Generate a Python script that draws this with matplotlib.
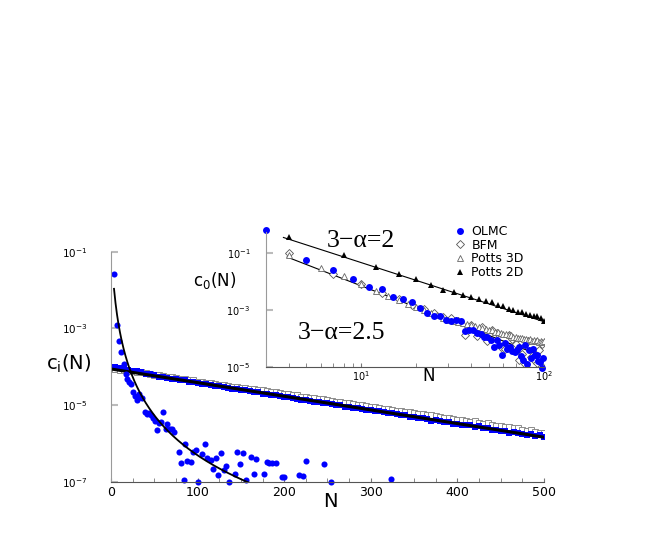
import numpy as np
import matplotlib
matplotlib.use("Agg")
import matplotlib.pyplot as plt
from matplotlib.ticker import FixedLocator, NullFormatter, NullLocator

plt.rcParams['font.family'] = ['DejaVu Sans']
plt.rcParams['mathtext.fontset'] = 'dejavusans'

BLUE = '#0000ff'

# ---- main panel: c_i(N), N = 0..500 step 5 (log10 values)
n_sq = np.arange(0, 501, 5)
hollow_sq = [-4.07, -4.06, -4.08, -4.09, -4.11, -4.12, -4.14, -4.15, -4.17, -4.19,
             -4.21, -4.22, -4.24, -4.26, -4.27, -4.29, -4.31, -4.32, -4.34, -4.35,
             -4.39, -4.40, -4.43, -4.43, -4.46, -4.47, -4.49, -4.50, -4.52, -4.53,
             -4.55, -4.56, -4.58, -4.59, -4.61, -4.62, -4.64, -4.66, -4.67, -4.69,
             -4.71, -4.72, -4.74, -4.75, -4.78, -4.78, -4.81, -4.82, -4.84, -4.85,
             -4.88, -4.89, -4.91, -4.92, -4.95, -4.95, -4.98, -4.99, -5.01, -5.03,
             -5.04, -5.06, -5.07, -5.10, -5.11, -5.12, -5.15, -5.16, -5.18, -5.19,
             -5.21, -5.23, -5.24, -5.27, -5.27, -5.29, -5.32, -5.33, -5.34, -5.37,
             -5.38, -5.39, -5.41, -5.44, -5.43, -5.47, -5.49, -5.48, -5.52, -5.54,
             -5.55, -5.57, -5.58, -5.61, -5.60, -5.64, -5.67, -5.66, -5.70, -5.72, -5.73]
blue_sq = [-4.02, -4.01, -4.03, -4.04, -4.09, -4.12, -4.11, -4.14, -4.19, -4.20,
           -4.23, -4.26, -4.27, -4.30, -4.31, -4.33, -4.36, -4.36, -4.39, -4.41,
           -4.43, -4.44, -4.46, -4.48, -4.50, -4.51, -4.54, -4.55, -4.57, -4.58,
           -4.61, -4.61, -4.64, -4.66, -4.67, -4.70, -4.70, -4.73, -4.75, -4.76,
           -4.79, -4.80, -4.81, -4.84, -4.86, -4.86, -4.89, -4.91, -4.92, -4.95,
           -4.96, -4.97, -5.00, -5.01, -5.04, -5.04, -5.07, -5.08, -5.11, -5.12,
           -5.14, -5.16, -5.16, -5.19, -5.21, -5.22, -5.24, -5.27, -5.26, -5.30,
           -5.32, -5.35, -5.34, -5.37, -5.41, -5.40, -5.43, -5.45, -5.44, -5.49,
           -5.49, -5.52, -5.53, -5.51, -5.58, -5.56, -5.61, -5.60, -5.64, -5.66,
           -5.67, -5.68, -5.72, -5.70, -5.74, -5.76, -5.77, -5.76, -5.81, -5.79, -5.83]

# steep OLMC series in the main panel
n_dots = [3, 6.5, 9, 12, 15, 17, 19, 21, 23, 26, 28, 30, 32, 34, 36, 39, 42, 44, 46, 49,
          51, 53, 55, 58, 60, 63, 65, 68, 70, 73, 78, 81, 84, 86, 88, 92, 95, 98, 100, 105,
          108, 111, 115, 118, 121, 124, 127, 130, 133, 136, 143, 145, 149, 153, 156, 162,
          165, 168, 177, 180, 183, 186, 190, 197, 200, 217, 222, 225, 246, 254, 323]
dots = [-1.58, -2.92, -3.33, -3.62, -3.93, -4.19, -4.33, -4.40, -4.45, -4.67, -4.76, -4.88,
        -4.72, -4.78, -4.81, -5.18, -5.24, -5.20, -5.26, -5.33, -5.43, -5.66, -5.46, -5.45,
        -5.17, -5.63, -5.50, -5.62, -5.63, -5.71, -6.22, -6.50, -6.95, -6.02, -6.45, -6.48,
        -6.22, -6.18, -7.00, -6.28, -6.02, -6.37, -6.43, -6.67, -6.37, -6.82, -6.26, -6.69,
        -6.59, -7.00, -6.80, -6.22, -6.55, -6.24, -6.96, -6.35, -6.80, -6.42, -6.80, -6.48,
        -6.50, -6.50, -6.52, -6.87, -6.87, -6.83, -6.86, -6.45, -6.55, -7.00, -6.94]

# fits drawn in the main panel
exp_fit = (-4.06, -0.00356)          # log10 c = a + b*N
pow_fit = (0.974, 3.0, 3.62)         # log10 c = a - p*log10(N + n0)

# ---- inset: c_0(N)
n_olmc = np.arange(3, 100, 2)
olmc = [-0.18, -1.26, -1.61, -1.92, -2.21, -2.27, -2.53, -2.62, -2.74, -2.92,
        -3.12, -3.22, -3.20, -3.36, -3.40, -3.36, -3.38, -3.74, -3.72, -3.70,
        -3.80, -3.85, -3.94, -3.95, -4.05, -4.30, -4.05, -4.25, -4.58, -4.17,
        -4.38, -4.30, -4.46, -4.50, -4.40, -4.30, -4.62, -4.78, -4.23, -4.90,
        -4.42, -4.70, -4.36, -4.60, -4.58, -4.80, -4.82, -5.05, -4.70]
n_bfm = np.arange(4, 101, 3)
bfm = [-1.00, -1.72, -2.10, -2.40, -2.62, -2.82, -2.98, -3.10, -3.24, -3.30, -3.40,
       -3.88, -3.55, -3.92, -3.62, -4.10, -3.72, -3.80, -4.30, -4.36, -3.90, -4.02,
       -4.20, -4.76, -4.55, -4.90, -4.10, -4.65, -4.76, -4.87, -4.42, -4.20, -4.80]
n_p3 = np.arange(4, 101, 2)
potts3d = [-1.06, -1.53, -1.82, -2.08, -2.33, -2.52, -2.66, -2.79, -2.90, -3.01,
           -3.10, -3.19, -3.27, -3.34, -3.38, -3.42, -3.47, -3.50, -3.55, -3.58,
           -3.61, -3.64, -3.68, -3.70, -3.71, -3.77, -3.78, -3.82, -3.84, -3.86,
           -3.90, -3.90, -3.95, -3.94, -3.98, -3.99, -4.00, -4.04, -4.01, -4.05,
           -4.03, -4.08, -4.06, -4.10, -4.07, -4.12, -4.10, -4.13, -4.11]
n_p2 = np.arange(4, 101, 4)
potts2d = [-0.42, -1.08, -1.49, -1.73, -1.92, -2.12, -2.29, -2.37, -2.47, -2.55,
           -2.61, -2.67, -2.73, -2.82, -2.88, -2.96, -3.02, -3.06, -3.09, -3.14,
           -3.17, -3.20, -3.23, -3.29, -3.38]

# power-law guide lines: (N0, log10 c at N0, exponent, N end)
line_2 = (3.75, -0.45, 2.08, 100)
line_25 = (3.93, -1.14, 2.5, 95)

fig = plt.figure(figsize=(6.54, 5.45), dpi=100)

# ---------------- main panel
ax = fig.add_axes([0.1697, 0.1162, 0.662, 0.422])
ax.plot(n_sq, 10 ** np.array(hollow_sq), 's', ms=4.8, mfc='white', mec='#8c8c8c', mew=0.7)
ax.plot(n_sq, 10 ** np.array(blue_sq), 's', ms=3.8, mfc=BLUE, mec=BLUE, mew=0)
nn = np.linspace(0, 500, 200)
ax.plot(nn, 10 ** (exp_fit[0] + exp_fit[1] * nn), color='black', lw=2.2)
ax.plot(n_dots, 10 ** np.array(dots), 'o', ms=4.4, mfc=BLUE, mec=BLUE, mew=0, clip_on=False)
nc = np.linspace(3.5, 175, 300)
ax.plot(nc, 10 ** (pow_fit[0] - pow_fit[2] * np.log10(nc + pow_fit[1])), color='black', lw=1.3)

ax.set_yscale('log')
ax.set_xlim(0, 500)
ax.set_ylim(1e-7, 1e-1)
for s in ['top', 'right']:
    ax.spines[s].set_visible(False)
ax.spines['left'].set_color('#9a9a9a')
ax.spines['bottom'].set_color('#555555')
ax.yaxis.set_major_locator(FixedLocator([1e-7, 1e-5, 1e-3, 1e-1]))
ax.yaxis.set_minor_locator(NullLocator())
ax.set_yticklabels(['$10^{-7}$', '$10^{-5}$', '$10^{-3}$', '$10^{-1}$'])
ax.tick_params(axis='y', direction='in', length=5, color='#bbbbbb', width=1.5,
               pad=17, labelsize=7.5)
ax.xaxis.set_major_locator(FixedLocator([0, 100, 200, 300, 400, 500]))
ax.xaxis.set_minor_locator(FixedLocator(np.arange(25, 500, 25)))
ax.tick_params(axis='x', which='both', direction='in', length=3, color='#777777',
               pad=3, labelsize=9)
fig.text(0.5046, 0.0807, 'N', fontsize=14, ha='center', va='center')
fig.text(0.1055, 0.332, r'$\mathrm{c_i(N)}$', fontsize=14, ha='center', va='center')

# ---------------- inset
ins = fig.add_axes([0.4063, 0.3272, 0.4255, 0.2475])
ins.patch.set_alpha(0)
x0, y0, p, x1 = line_2
xl = np.array([x0, x1])
ins.plot(xl, 10 ** (y0 - p * np.log10(xl / x0)), color='black', lw=0.8)
x0, y0, p, x1 = line_25
xl = np.array([x0, x1])
ins.plot(xl, 10 ** (y0 - p * np.log10(xl / x0)), color='black', lw=0.8)

ins.plot(n_bfm, 10 ** np.array(bfm), 'D', ms=3.6, mfc='white', mec='#555555', mew=0.6,
         label='BFM')
ins.plot(n_p3, 10 ** np.array(potts3d), '^', ms=4.8, mfc='white', mec='#666666', mew=0.6,
         label='Potts 3D')
ins.plot(n_olmc, 10 ** np.array(olmc), 'o', ms=5.0, mfc=BLUE, mec=BLUE, mew=0,
         clip_on=False, label='OLMC')
ins.plot(n_p2, 10 ** np.array(potts2d), '^', ms=5.0, mfc='black', mec='black', mew=0,
         label='Potts 2D')

ins.set_xscale('log')
ins.set_yscale('log')
ins.set_xlim(3, 100)
ins.set_ylim(1e-5, 10 ** -0.25)
for s in ['top', 'right']:
    ins.spines[s].set_visible(False)
ins.spines['left'].set_color('#9a9a9a')
ins.spines['bottom'].set_color('#555555')
ins.yaxis.set_major_locator(FixedLocator([1e-5, 1e-3, 1e-1]))
ins.yaxis.set_minor_locator(NullLocator())
ins.set_yticklabels(['$10^{-5}$', '$10^{-3}$', '$10^{-1}$'])
ins.tick_params(axis='y', direction='in', length=5, color='#bbbbbb', width=1.5,
                pad=11, labelsize=7)
ins.xaxis.set_major_locator(FixedLocator([10, 100]))
ins.xaxis.set_minor_locator(FixedLocator([4, 5, 6, 7, 8, 9, 20, 30, 40, 50, 60, 70, 80, 90]))
ins.xaxis.set_minor_formatter(NullFormatter())
ins.set_xticklabels(['$10^{1}$', '$10^{2}$'])
ins.tick_params(axis='x', which='both', direction='in', length=3, color='#777777',
                pad=1.5, labelsize=7)
fig.text(0.656, 0.310, 'N', fontsize=12, ha='center', va='center')
fig.text(0.3287, 0.4862, r'$\mathrm{c_0(N)}$', fontsize=12, ha='center', va='center')

fig.text(0.5, 0.558, '3\u2212\u03b1=2', family='Liberation Serif', fontsize=18.5,
         ha='left', va='center')
fig.text(0.4557, 0.3884, '3\u2212\u03b1=2.5', family='Liberation Serif', fontsize=18.5,
         ha='left', va='center')

h, l = ins.get_legend_handles_labels()
order = [l.index('OLMC'), l.index('BFM'), l.index('Potts 3D'), l.index('Potts 2D')]
ins.legend([h[i] for i in order], [l[i] for i in order], loc='upper left',
           bbox_to_anchor=(0.694, 0.587), bbox_transform=fig.transFigure,
           frameon=False, fontsize=9, borderpad=0, labelspacing=0.05,
           handlelength=1.0, handletextpad=0.4, borderaxespad=0)

fig.savefig('out.png', dpi=100)
